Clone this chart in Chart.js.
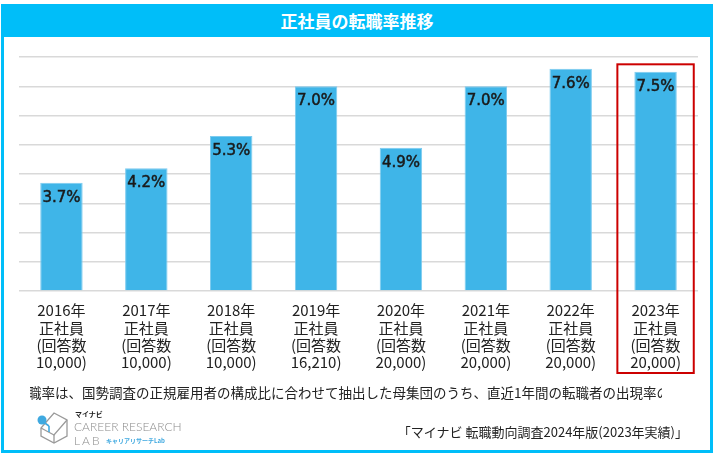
<!DOCTYPE html>
<html lang="ja">
<head>
<meta charset="utf-8">
<title>正社員の転職率推移</title>
<script src="https://cdn.jsdelivr.net/npm/chart.js@4/dist/chart.umd.min.js"></script>
<style>
  html, body { margin: 0; padding: 0; background: #fff; }
  #wrap { position: relative; width: 716px; height: 456px; overflow: hidden; font-family: "Noto Sans CJK JP", "Noto Sans", sans-serif; }
  #frame { position: absolute; left: 1px; top: 4px; width: 706px; height: 443px; border: 3px solid #00BEF9; }
  #title { position: absolute; left: 1px; top: 4px; width: 712px; height: 33px; background: #00BEF9; color: #fff;
           font-size: 17px; font-weight: bold; text-align: center; line-height: 33px; }
  #chart { position: absolute; left: 0; top: 0; }
  #note { position: absolute; left: 30px; top: 382px; width: 632px; height: 20px; overflow: hidden; white-space: nowrap;
          font-size: 13.5px; line-height: 20px; color: #222; text-indent: -2px; }
  #source { position: absolute; right: 28px; top: 423px; font-size: 13px; line-height: 18px; color: #222; white-space: nowrap; }
  #logo { position: absolute; left: 36px; top: 410px; width: 200px; height: 40px; white-space: nowrap; }
  #logo div { position: absolute; white-space: nowrap; }
  #logo .mn { left: 39px; top: 0px; font-size: 7px; font-weight: bold; color: #222; line-height: 8px; }
  #logo .cr { left: 38px; top: 10px; font-family: "Lato", "Noto Sans", sans-serif; font-weight: 300;
              font-size: 12px; color: #8c8c8c; line-height: 13px; }
  #logo .lab { left: 38px; top: 24px; font-family: "Lato", "Noto Sans", sans-serif; font-weight: 300;
               font-size: 12px; color: #8c8c8c; line-height: 13px; letter-spacing: 2px; }
  #logo .kana { left: 70px; top: 27px; font-size: 6px; font-weight: bold; color: #3FA9E0; line-height: 8px; }
</style>
</head>
<body>
<div id="wrap">
  <div id="frame"></div>
  <div id="title">正社員の転職率推移</div>
  <canvas id="chart" width="716" height="456"></canvas>
  <div id="note">職率は、国勢調査の正規雇用者の構成比に合わせて抽出した母集団のうち、直近1年間の転職者の出現率の推移</div>
  <div id="logo">
    <svg width="34" height="38" viewBox="0 0 34 38" style="position:absolute;left:0;top:0">
      <polygon points="18,3 31,10 31,26 18,33 5,26 5,18" fill="none" stroke="#9a9a9a" stroke-width="1.3"/>
      <polyline points="5,18 18,25 31,10" fill="none" stroke="#9a9a9a" stroke-width="1.3"/>
      <line x1="18" y1="25" x2="18" y2="33" stroke="#9a9a9a" stroke-width="1.3"/>
      <line x1="6" y1="11" x2="13" y2="16" stroke="#3FA9E0" stroke-width="1.6"/>
      <line x1="13" y1="16" x2="13" y2="22" stroke="#3FA9E0" stroke-width="1.6"/>
      <circle cx="6" cy="10" r="4.5" fill="#3FA9E0"/>
    </svg>
    <div class="mn">マイナビ</div>
    <div class="cr">CAREER RESEARCH</div>
    <div class="lab">LAB</div>
    <div class="kana">キャリアリサーチLab</div>
  </div>
  <div id="source">「マイナビ 転職動向調査2024年版(2023年実績)」</div>
</div>
<script>
// 年ごとのラベル(4行)
const years = ['2016年', '2017年', '2018年', '2019年', '2020年', '2021年', '2022年', '2023年'];
const respondents = ['10,000', '10,000', '10,000', '16,210', '20,000', '20,000', '20,000', '20,000'];
// 転職率(%)
const rates = [3.7, 4.2, 5.3, 7.0, 4.9, 7.0, 7.6, 7.5];
const yTicks = [0, 1, 2, 3, 4, 5, 6, 7, 8];
const highlightIndex = 7; // 赤枠で囲む年

const labels = years.map((y, i) => [y, '正社員', '(回答数', respondents[i] + ')']);

// 棒の上部にラベルを描く
const valueLabels = {
    id: 'valueLabels',
    afterDatasetsDraw(chart) {
        const ctx = chart.ctx;
        const meta = chart.getDatasetMeta(0);
        ctx.save();
        ctx.font = '15px "DejaVu Sans", sans-serif';
        ctx.fillStyle = '#1a1a1a';
        ctx.strokeStyle = '#1a1a1a';
        ctx.lineWidth = 0.5;
        ctx.textAlign = 'center';
        ctx.textBaseline = 'middle';
        meta.data.forEach((bar, i) => {
            const txt = rates[i].toFixed(1) + '%';
            ctx.fillText(txt, bar.x, bar.y + 15);
            ctx.strokeText(txt, bar.x, bar.y + 15);
        });
        ctx.restore();
    }
};

// 2023年を赤枠で囲む
const highlightBox = {
    id: 'highlightBox',
    afterDraw(chart) {
        const x = chart.scales.x;
        const y = chart.scales.y;
        const cx = x.getPixelForValue(highlightIndex);
        const w = (x.getPixelForValue(1) - x.getPixelForValue(0)) * 0.9;
        const top = y.getPixelForValue(7.75);
        const bottom = chart.chartArea.bottom + 82;
        const ctx = chart.ctx;
        ctx.save();
        ctx.strokeStyle = '#CC0000';
        ctx.lineWidth = 2;
        ctx.strokeRect(cx - w / 2, top, w, bottom - top);
        ctx.restore();
    }
};

const ctx = document.getElementById('chart').getContext('2d');
new Chart(ctx, {
    type: 'bar',
    data: {
        labels: labels,
        datasets: [{
            data: rates,
            backgroundColor: '#3FB5E8',
            borderColor: '#7CCBEF',
            borderWidth: 1,
            categoryPercentage: 1,
            barPercentage: 0.5
        }]
    },
    options: {
        responsive: false,
        devicePixelRatio: 1,
        animation: false,
        layout: { padding: { left: 19, right: 18, top: 57, bottom: 75 } },
        plugins: { legend: { display: false }, tooltip: { enabled: false } },
        scales: {
            x: {
                grid: { display: false, drawTicks: false },
                border: { display: false },
                ticks: {
                    padding: 11,
                    color: '#222',
                    font: { family: '"Noto Sans CJK JP", sans-serif', size: 15, lineHeight: 1.15 }
                },
                afterFit(s) { s.height = 90; }
            },
            y: {
                min: yTicks[0],
                max: yTicks[yTicks.length - 1],
                afterBuildTicks(s) { s.ticks = yTicks.map(v => ({ value: v })); },
                grid: { color: '#D9D9D9', lineWidth: 1.5, drawTicks: false },
                border: { display: false },
                ticks: { display: false },
                afterFit(s) { s.width = 0; }
            }
        }
    },
    plugins: [valueLabels, highlightBox]
});
</script>
</body>
</html>
